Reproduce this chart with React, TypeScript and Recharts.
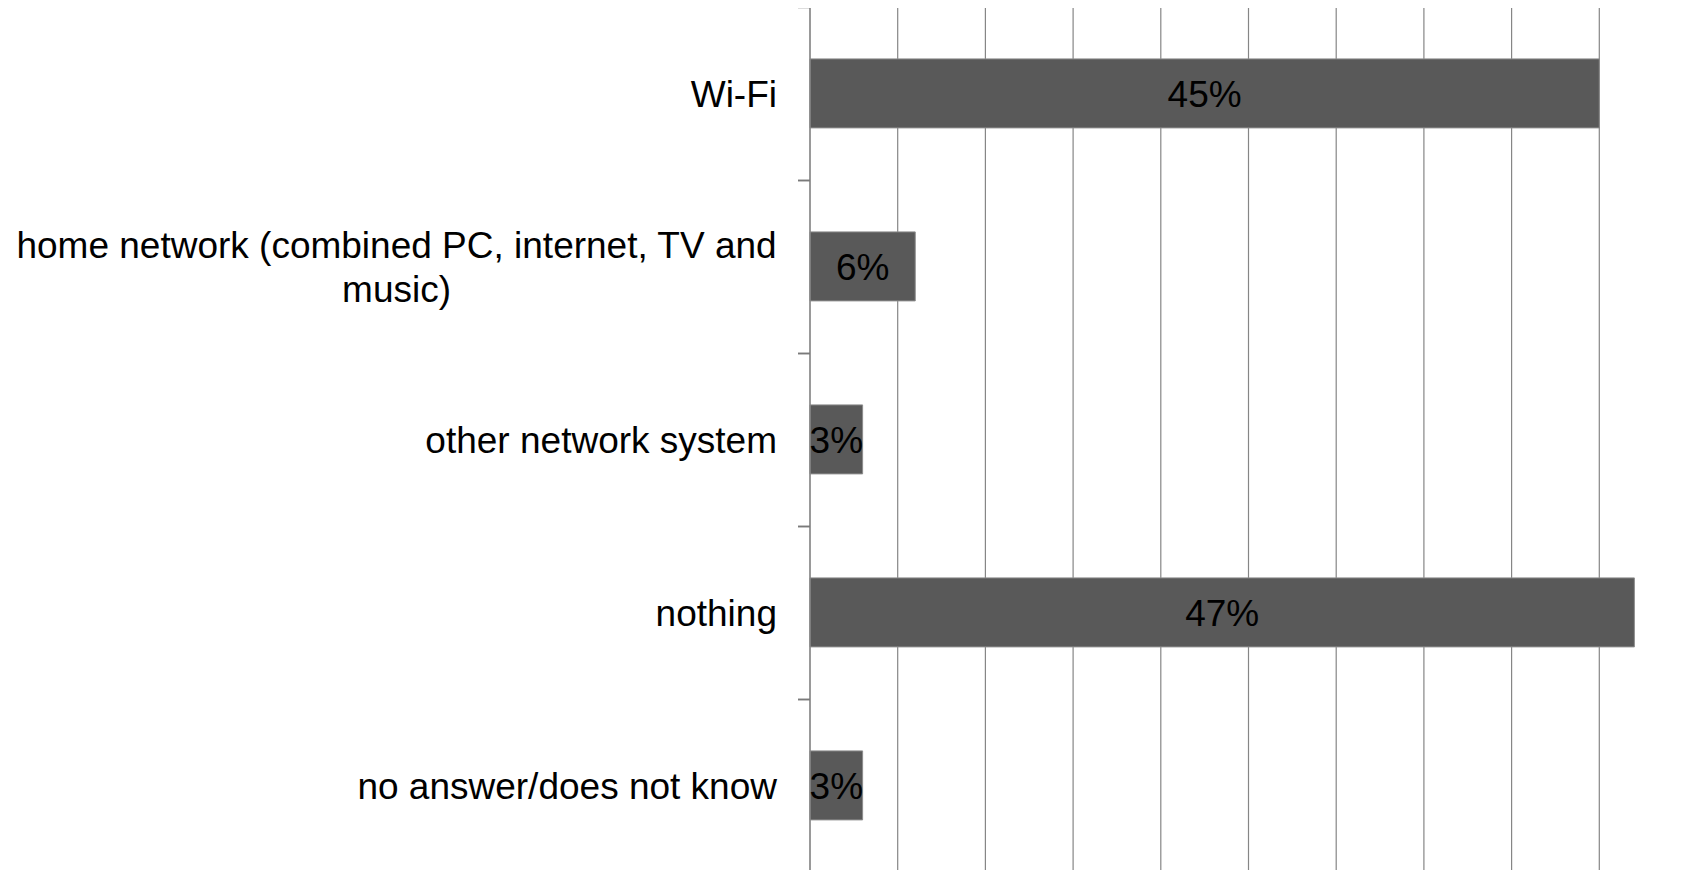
import React from "react";
import {
  BarChart,
  Bar,
  XAxis,
  YAxis,
  CartesianGrid,
  LabelList
} from "recharts";

const categories = [
  "Wi-Fi",
  "home network (combined PC, internet, TV and music)",
  "other network system",
  "nothing",
  "no answer/does not know"
];

// label lines as they wrap in the original
const labelLines: string[][] = [
  ["Wi-Fi"],
  ["home network (combined PC, internet, TV and", "music)"],
  ["other network system"],
  ["nothing"],
  ["no answer/does not know"]
];

const values = [45, 6, 3, 47, 3];
const xTicks = [0, 5, 10, 15, 20, 25, 30, 35, 40, 45, 50];

const data = categories.map((name, i) => ({
  name,
  lines: labelLines[i],
  value: values[i]
}));

const WIDTH = 1694;
const HEIGHT = 880;
const MARGIN = { top: 7, right: 7, bottom: 8, left: 0 };
const AXIS_W = 810;
const TICK_SIZE = 12;
const TICK_GAP = 21;
const FONT = "'Liberation Sans', Arial, sans-serif";
const FONT_SIZE = 37;
const LINE_H = 44;

const bandHalf = (HEIGHT - MARGIN.top - MARGIN.bottom) / categories.length / 2;

let ctx: CanvasRenderingContext2D | null = null;
function textWidth(s: string) {
  if (!ctx) {
    ctx = document.createElement("canvas").getContext("2d");
  }
  if (!ctx) return s.length * FONT_SIZE * 0.5;
  ctx.font = `${FONT_SIZE}px ${FONT}`;
  return ctx.measureText(s).width;
}

function CategoryTick(props: any) {
  const { x, y, index } = props;
  const lines = labelLines[index] || [];
  const axisX = x + TICK_SIZE + TICK_GAP;
  const blockW = Math.max(...lines.map(textWidth));
  const startY = y - ((lines.length - 1) * LINE_H) / 2;
  const top = Math.round(y - bandHalf) + 0.5;
  const bottom = Math.round(y + bandHalf) + 0.5;

  return (
    <g>
      <path
        d={`M${axisX - TICK_SIZE},${top}H${axisX}M${axisX - TICK_SIZE},${bottom}H${axisX}`}
        stroke="#7a7a7a"
        strokeWidth={1.3}
        fill="none"
      />
      {lines.map((line, i) => (
        <text
          key={i}
          x={lines.length > 1 ? x - blockW / 2 : x}
          y={startY + i * LINE_H}
          dy="0.36em"
          textAnchor={lines.length > 1 ? "middle" : "end"}
          fontFamily={FONT}
          fontSize={FONT_SIZE}
          fill="#000"
        >
          {line}
        </text>
      ))}
    </g>
  );
}

export default function App() {
  return (
    <div style={{ margin: "-8px 0 0 -8px" }}>
      <BarChart
        width={WIDTH}
        height={HEIGHT}
        data={data}
        layout="vertical"
        margin={MARGIN}
        barCategoryGap="30%"
      >
        <CartesianGrid horizontal={false} stroke="#868686" strokeWidth={1.2} />
        <XAxis type="number" domain={[0, 50]} ticks={xTicks} hide />
        <YAxis
          type="category"
          dataKey="name"
          width={AXIS_W}
          tickSize={TICK_SIZE}
          tickMargin={TICK_GAP}
          tickLine={false}
          axisLine={{ stroke: "#868686", strokeWidth: 1.2 }}
          tick={<CategoryTick />}
          interval={0}
        />
        <Bar dataKey="value" fill="#595959" stroke="#8c8c8c" strokeWidth={1} isAnimationActive={false}>
          <LabelList
            dataKey="value"
            position="center"
            formatter={(v: any) => `${v}%`}
            fill="#000"
            fontFamily={FONT}
            fontSize={FONT_SIZE}
          />
        </Bar>
      </BarChart>
    </div>
  );
}
